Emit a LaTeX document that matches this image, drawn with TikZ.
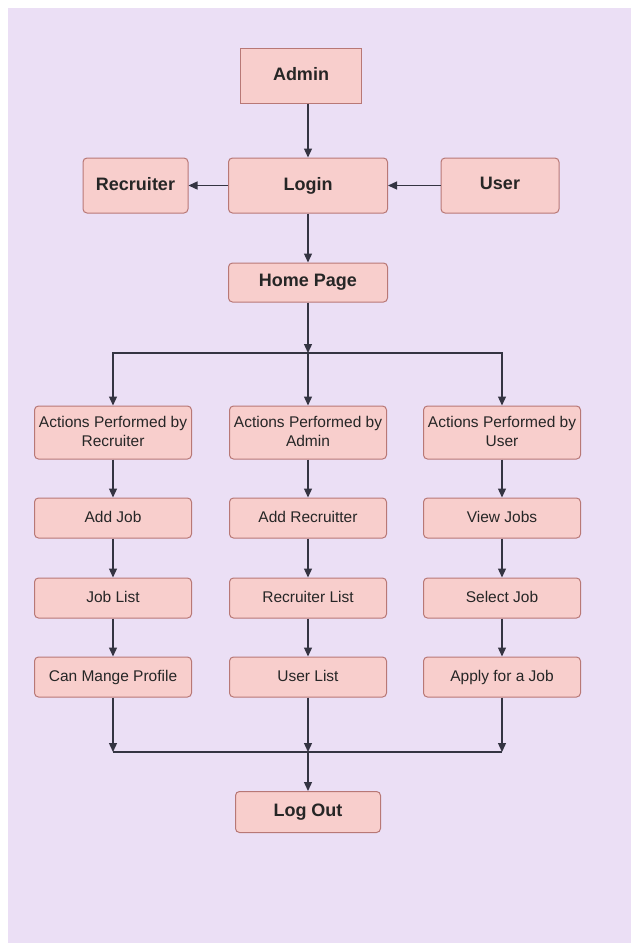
\documentclass[tikz,border=0pt]{standalone}
\usepackage{tikz}
\usetikzlibrary{arrows.meta}
\usepackage{xcolor}
\usepackage{fontspec}
\setmainfont{Liberation Sans}
\definecolor{bgpage}{RGB}{235,223,245}
\definecolor{boxfill}{RGB}{248,206,204}
\definecolor{boxline}{RGB}{184,120,118}
\definecolor{flowline}{RGB}{52,52,66}

\begin{document}
\begin{tikzpicture}[x=1pt,y=-1pt,
    box/.style={draw=boxline, fill=boxfill, line width=1pt, rounded corners=4pt,
      inner sep=0pt, align=center, text=black!85, execute at begin node=\vphantom{Ag}},
    titlebox/.style={box, font=\fontsize{18}{20}\selectfont\bfseries},
    actbox/.style={box, minimum width=157pt, minimum height=40pt,
      font=\fontsize{15.5}{19}\selectfont},
    arr/.style={draw=flowline, line width=1.3pt, -{Triangle[length=9pt,width=8pt]}}]
  \useasboundingbox (0,0) rectangle (631,943);
  \fill[bgpage] (8,8) rectangle (631,943);

  % top row
  \node[titlebox, rounded corners=0pt, minimum width=121pt, minimum height=55pt] (admin) at (301,75.5) {Admin};
  \node[titlebox, minimum width=105pt, minimum height=55pt] (recruiter) at (135.5,185.5) {Recruiter};
  \node[titlebox, minimum width=159pt, minimum height=55pt] (login) at (308,185.5) {Login};
  \node[titlebox, minimum width=118pt, minimum height=55pt] (user) at (500,185.5) {User};
  \node[titlebox, minimum width=159pt, minimum height=39pt] (home) at (308,282.5) {Home Page};

  % three columns
  \node[actbox, minimum height=53pt] (actrec) at (113,432.5) {Actions Performed by\\Recruiter};
  \node[actbox, minimum height=53pt] (actadm) at (308,432.5) {Actions Performed by\\Admin};
  \node[actbox, minimum height=53pt] (actusr) at (502,432.5) {Actions Performed by\\User};

  \node[actbox] (addjob) at (113,518) {Add Job};
  \node[actbox] (addrec) at (308,518) {Add Recruitter};
  \node[actbox] (viewjobs) at (502,518) {View Jobs};

  \node[actbox] (joblist) at (113,598) {Job List};
  \node[actbox] (reclist) at (308,598) {Recruiter List};
  \node[actbox] (selectjob) at (502,598) {Select Job};

  \node[actbox] (manage) at (113,677) {Can Mange Profile};
  \node[actbox] (userlist) at (308,677) {User List};
  \node[actbox] (apply) at (502,677) {Apply for a Job};

  \node[titlebox, minimum width=145pt, minimum height=41pt] (logout) at (308,812) {Log Out};

  \coordinate (split) at (308,353);
  \coordinate (merge) at (308,752);

  % connectors
  \draw[arr] (admin.south -| login.north) -- (login.north);
  \draw[arr] (login.west) -- (recruiter.east);
  \draw[arr] (user.west) -- (login.east);
  \draw[arr] (login) -- (home);
  \draw[arr] (home) -- (split);
  \draw[arr] (split) -| (actrec);
  \draw[arr] (split) -- (actadm);
  \draw[arr] (split) -| (actusr);
  \foreach \a/\b in {actrec/addjob, addjob/joblist, joblist/manage,
                     actadm/addrec, addrec/reclist, reclist/userlist,
                     actusr/viewjobs, viewjobs/selectjob, selectjob/apply}
    \draw[arr] (\a) -- (\b);
  \draw[arr] (manage) -- (manage |- merge);
  \draw[arr] (userlist) -- (merge);
  \draw[arr] (apply) -- (apply |- merge);
  \draw[draw=flowline, line width=1.3pt] (manage |- merge) -- (apply |- merge);
  \draw[arr] (merge) -- (logout);
\end{tikzpicture}
\end{document}
